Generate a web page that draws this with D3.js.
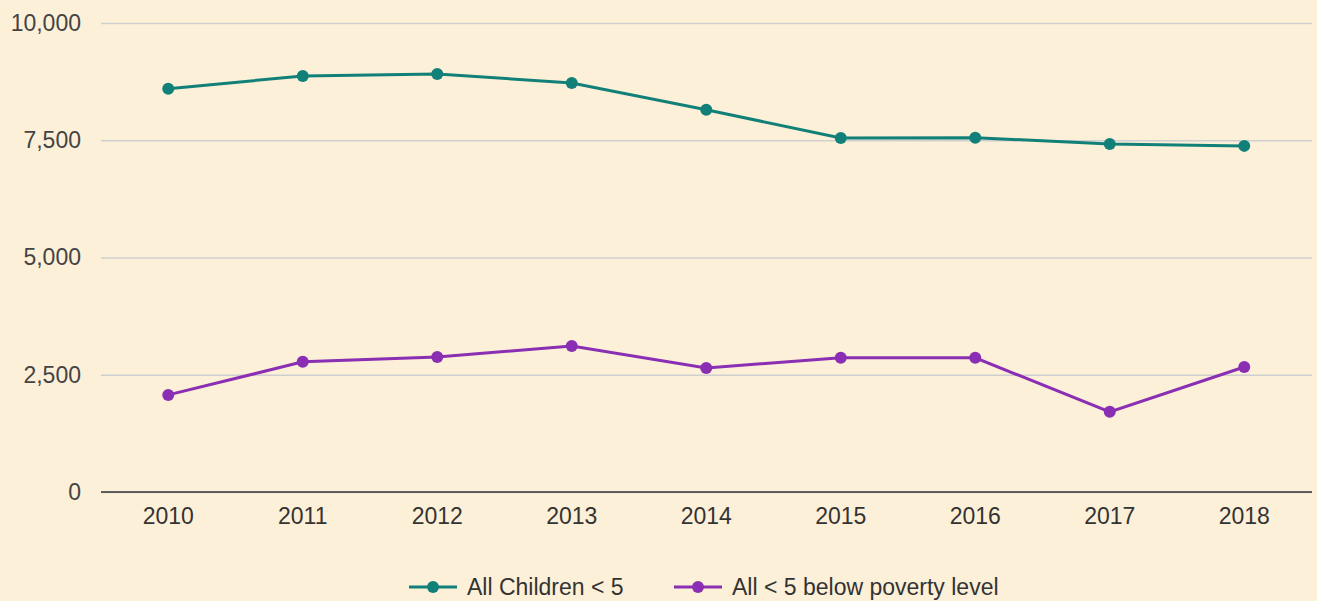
<!DOCTYPE html>
<html>
<head>
<meta charset="utf-8">
<script src="https://cdn.jsdelivr.net/npm/d3@7"></script>
<style>
  body { margin: 0; background: #fdf0d8; }
  svg { display: block; font-family: "Liberation Sans", Arial, sans-serif; }
</style>
</head>
<body>
<div id="chart"></div>
<script>
const years = ["2010", "2011", "2012", "2013", "2014", "2015", "2016", "2017", "2018"];
const allChildren = [8600, 8870, 8915, 8720, 8150, 7550, 7555, 7420, 7380];
const belowPoverty = [2070, 2775, 2880, 3115, 2645, 2860, 2860, 1710, 2665];
const yTicks = [0, 2500, 5000, 7500, 10000];

const seriesNames = ["All Children < 5", "All < 5 below poverty level"];
const colors = ["#118078", "#8a2eb3"];

const width = 1317;
const height = 601;
const margin = { top: 23, right: 5, bottom: 109, left: 101 };
const fontSize = 23;

const svg = d3.select("#chart").append("svg")
    .attr("width", width)
    .attr("height", height);

svg.append("rect")
    .attr("width", width)
    .attr("height", height)
    .attr("fill", "#fdf0d8");

const xScale = d3.scaleBand()
    .domain(years)
    .range([margin.left, margin.left + 9 * 134.5]);

const yScale = d3.scaleLinear()
    .domain([0, 10000])
    .range([height - margin.bottom, margin.top]);

// grid + y labels
const yAxis = svg.append("g")
    .attr("transform", `translate(${margin.left}, 0)`)
    .call(d3.axisLeft(yScale)
        .tickValues(yTicks)
        .tickSize(-(width - margin.left - margin.right))
        .tickPadding(20)
        .tickFormat(d3.format(",")));
yAxis.select(".domain").remove();
yAxis.selectAll(".tick line").attr("stroke", "#cfcfcf").attr("stroke-width", 1.3);
yAxis.selectAll(".tick text").attr("fill", "#444").attr("font-size", fontSize);

// baseline
const xAxis = svg.append("g")
    .attr("transform", `translate(0, ${yScale(0)})`)
    .call(d3.axisBottom(xScale).tickSize(0).tickPadding(16));
xAxis.select(".domain").attr("stroke", "#333").attr("stroke-width", 1.5)
    .attr("d", `M${margin.left},0H${width - margin.right}`);
xAxis.selectAll(".tick text").attr("fill", "#333").attr("font-size", fontSize);

const series = [allChildren, belowPoverty];
const cx = d => xScale(d) + xScale.bandwidth() / 2;

series.forEach((values, i) => {
    const pts = years.map((y, j) => ({ year: y, value: values[j] }));
    svg.append("path")
        .datum(pts)
        .attr("fill", "none")
        .attr("stroke", colors[i])
        .attr("stroke-width", 3)
        .attr("d", d3.line().x(d => cx(d.year)).y(d => yScale(d.value)));
    svg.selectAll(null)
        .data(pts)
        .enter().append("circle")
        .attr("cx", d => cx(d.year))
        .attr("cy", d => yScale(d.value))
        .attr("r", 6)
        .attr("fill", colors[i]);
});

// legend
const legendX = [409, 674];
const legend = svg.append("g").attr("transform", "translate(0, 587)");
seriesNames.forEach((name, i) => {
    const g = legend.append("g").attr("transform", `translate(${legendX[i]}, 0)`);
    g.append("line").attr("x1", 0).attr("x2", 48)
        .attr("stroke", colors[i]).attr("stroke-width", 3);
    g.append("circle").attr("cx", 24).attr("r", 6).attr("fill", colors[i]);
    g.append("text").attr("x", 58).attr("dy", "0.35em")
        .attr("font-size", fontSize).attr("fill", "#333").text(name);
});
</script>
</body>
</html>
